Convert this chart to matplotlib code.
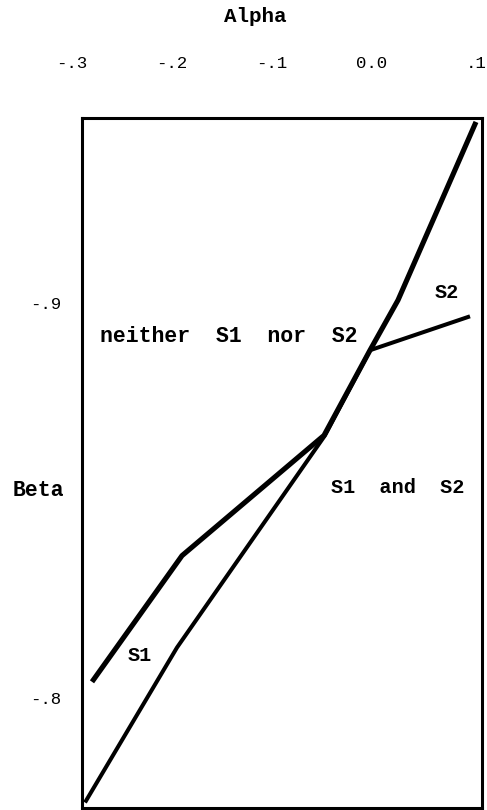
import matplotlib.pyplot as plt
from matplotlib.transforms import ScaledTranslation

# fronteira de S1 (linha grossa embaixo, depois a parte ingreme de cima)
s1_alpha = [-0.290, -0.200, -0.058, -0.012, 0.016, 0.094]
s1_beta = [-0.804, -0.836, -0.8665, -0.8881, -0.9008, -0.946]

# fronteira de S2 (parte ingreme de baixo, depois o ramo da direita)
s2_alpha = [-0.297, -0.205, -0.057, -0.012, 0.088]
s2_beta = [-0.7734, -0.8127, -0.8665, -0.8881, -0.8967]

xticks = [-0.3, -0.2, -0.1, 0.0, 0.1]
xlabels = ['-.3', '-.2', '-.1', '0.0', '.1']
yticks = [-0.9, -0.8]
ylabels = ['-.9', '-.8']

mono = 'Liberation Mono'

fig = plt.figure(figsize=(4.87, 8.10), dpi=100)
ax = fig.add_axes([82/487, 2/810, 400/487, 690/810])

ax.plot(s2_alpha, s2_beta, color='black', lw=2.9, solid_capstyle='butt')
ax.plot(s1_alpha, s1_beta, color='black', lw=3.7, solid_capstyle='butt')

ax.set_xlim(-0.3, 0.1)
ax.set_ylim(-0.772, -0.947)

ax.xaxis.tick_top()
ax.set_xticks(xticks)
ax.set_xticklabels(xlabels, family=mono, fontsize=12.5, ha='right')
ax.set_yticks(yticks)
ax.set_yticklabels(ylabels, family=mono, fontsize=12.5)
ax.tick_params(axis='x', length=0, pad=34)
ax.tick_params(axis='y', length=0, pad=15)

# rotulos do eixo x ficam um pouco a direita do ponto
desloc = ScaledTranslation(5/100, 0, fig.dpi_scale_trans)
for lb in ax.get_xticklabels():
    lb.set_transform(lb.get_transform() + desloc)

for s in ax.spines.values():
    s.set_linewidth(2.2)

fig.text(255/487, 1 - 17/810, 'Alpha', family=mono, weight='bold', fontsize=15,
         ha='center', va='center')
fig.text(38/487, 1 - 490/810, 'Beta', family=mono, weight='bold', fontsize=15.5,
         ha='center', va='center')

ax.text(-0.282, -0.8916, 'neither  S1  nor  S2', family=mono, weight='bold',
        fontsize=15.5, ha='left', va='center')
ax.text(0.065, -0.9028, 'S2', family=mono, weight='bold', fontsize=14.5,
        ha='center', va='center')
ax.text(0.016, -0.8533, 'S1  and  S2', family=mono, weight='bold', fontsize=14.5,
        ha='center', va='center')
ax.text(-0.242, -0.8107, 'S1', family=mono, weight='bold', fontsize=14.5,
        ha='center', va='center')

plt.savefig('out.png', dpi=100)
